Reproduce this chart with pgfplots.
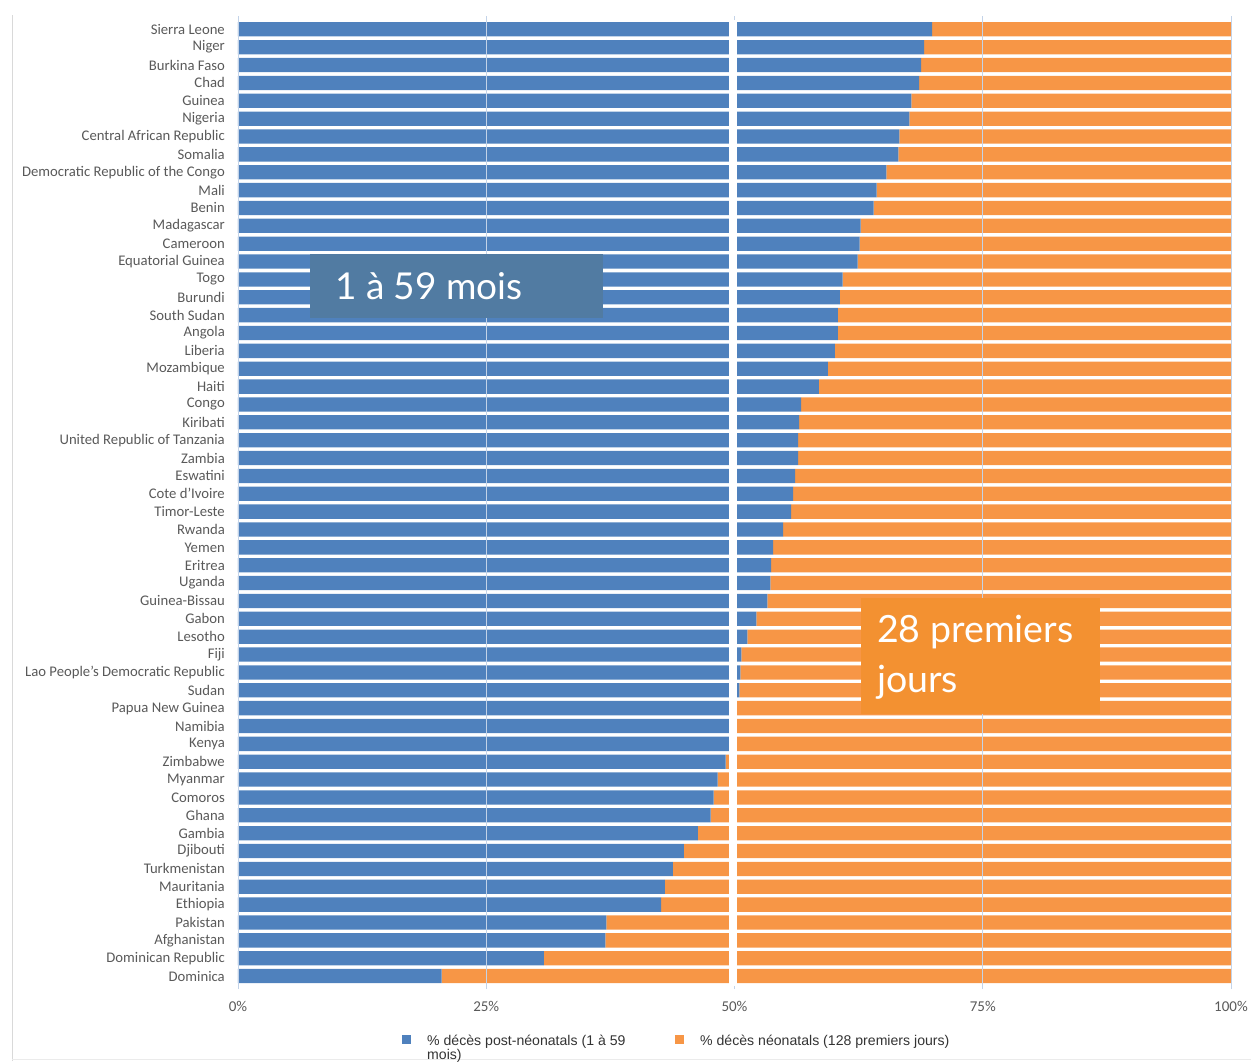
\documentclass[border=0pt]{standalone}
\usepackage{pgfplots}
\pgfplotsset{compat=1.18}
\usepackage{fontspec}
\setmainfont{Carlito}
\newfontfamily\arialf{Liberation Sans}
\newfontfamily\gillf{Lato}
\definecolor{barblue}{HTML}{4F81BD}
\definecolor{barorange}{HTML}{F79646}
\definecolor{boxblue}{HTML}{517BA2}
\definecolor{boxorange}{HTML}{F39131}
\definecolor{labgray}{HTML}{595959}
\definecolor{gridblue}{HTML}{C3D3E8}
\begin{document}
\begin{tikzpicture}[x=1pt,y=1pt]
\path[use as bounding box] (0,0) rectangle (1251,1061);
\draw[line width=0.8pt, color=black!15] (12,0) -- (12,1046);
\draw[line width=0.6pt, color=black!8] (12,2) -- (1251,2);
\begin{axis}[
  at={(238pt,76pt)}, anchor=south west,
  scale only axis, width=993pt, height=964.6pt,
  xbar stacked, bar width=14.3pt,
  xmin=0, xmax=100, ymin=-0.5, ymax=53.5, y dir=reverse,
  axis line style={draw=none},
  ytick={0,...,53},
  yticklabels={Sierra Leone,Niger,Burkina Faso,Chad,Guinea,Nigeria,Central African Republic,Somalia,Democratic Republic of the Congo,Mali,Benin,Madagascar,Cameroon,Equatorial Guinea,Togo,Burundi,South Sudan,Angola,Liberia,Mozambique,Haiti,Congo,Kiribati,United Republic of Tanzania,Zambia,Eswatini,Cote d'Ivoire,Timor-Leste,Rwanda,Yemen,Eritrea,Uganda,Guinea-Bissau,Gabon,Lesotho,Fiji,Lao People's Democratic Republic,Sudan,Papua New Guinea,Namibia,Kenya,Zimbabwe,Myanmar,Comoros,Ghana,Gambia,Djibouti,Turkmenistan,Mauritania,Ethiopia,Pakistan,Afghanistan,Dominican Republic,Dominica},
  yticklabel style={font=\fontsize{14.7}{16}\selectfont, text=labgray, inner sep=0pt, anchor=east, xshift=-9pt},
  ytick style={draw=none},
  xtick={0,25,50,75,100},
  xticklabels={0\%,25\%,50\%,75\%,100\%},
  xticklabel style={font=\fontsize{15}{17}\selectfont, text=labgray, inner sep=0pt, anchor=north, yshift=-12pt},
  xtick style={draw=gridblue, line width=0.8pt},
  tick align=outside, major tick length=4pt,
  clip=false,
]
\addplot[fill=barblue, draw=none] coordinates {
(69.9,0) (69.1,1) (68.8,2) (68.6,3) (67.8,4) (67.6,5) (66.6,6) (66.5,7) (65.3,8) (64.3,9)
(64.0,10) (62.7,11) (62.6,12) (62.4,13) (60.9,14) (60.6,15) (60.4,16) (60.4,17) (60.1,18) (59.4,19)
(58.5,20) (56.7,21) (56.5,22) (56.4,23) (56.4,24) (56.1,25) (55.9,26) (55.7,27) (54.9,28) (53.9,29)
(53.7,30) (53.6,31) (53.3,32) (52.2,33) (51.3,34) (50.7,35) (50.6,36) (50.5,37) (50.0,38) (50.0,39)
(50.0,40) (49.1,41) (48.3,42) (47.9,43) (47.6,44) (46.3,45) (44.9,46) (43.8,47) (43.0,48) (42.6,49)
(37.1,50) (37.0,51) (30.8,52) (20.5,53)
};
\addplot[fill=barorange, draw=none] coordinates {
(30.1,0) (30.9,1) (31.2,2) (31.4,3) (32.2,4) (32.4,5) (33.4,6) (33.5,7) (34.7,8) (35.7,9)
(36.0,10) (37.3,11) (37.4,12) (37.6,13) (39.1,14) (39.4,15) (39.6,16) (39.6,17) (39.9,18) (40.6,19)
(41.5,20) (43.3,21) (43.5,22) (43.6,23) (43.6,24) (43.9,25) (44.1,26) (44.3,27) (45.1,28) (46.1,29)
(46.3,30) (46.4,31) (46.7,32) (47.8,33) (48.7,34) (49.3,35) (49.4,36) (49.5,37) (50.0,38) (50.0,39)
(50.0,40) (50.9,41) (51.7,42) (52.1,43) (52.4,44) (53.7,45) (55.1,46) (56.2,47) (57.0,48) (57.4,49)
(62.9,50) (63.0,51) (69.2,52) (79.5,53)
};
\end{axis}
% gridlines over bars and white gap at 50%
\draw[gridblue, line width=0.8pt] (238,76) -- (238,1040.6);
\draw[gridblue, line width=0.8pt] (486.25,76) -- (486.25,1040.6);
\draw[gridblue, line width=0.8pt] (982.75,76) -- (982.75,1040.6);
\draw[gridblue, line width=0.8pt] (1231,76) -- (1231,1040.6);
\fill[white] (728.5,75) rectangle (736.5,1041);
% annotation boxes
\fill[boxblue] (310,743) rectangle (603,807);
\node[anchor=base west, inner sep=0pt, text=white, font=\gillf\fontsize{37}{44}\selectfont] at (335,761) {1 à 59 mois};
\fill[boxorange] (861,347) rectangle (1100,463);
\node[anchor=base west, inner sep=0pt, text=white, font=\gillf\fontsize{37.5}{44}\selectfont] at (877,418) {28 premiers};
\node[anchor=base west, inner sep=0pt, text=white, font=\gillf\fontsize{37.5}{44}\selectfont] at (877,368) {jours};
% legend
\fill[barblue] (402,17.5) rectangle (411,26.5);
\node[anchor=base west, inner sep=0pt, text=black!80, font=\arialf\fontsize{14.1}{15}\selectfont] at (427,16) {\% décès post-néonatals (1 à 59};
\node[anchor=base west, inner sep=0pt, text=black!80, font=\arialf\fontsize{14.1}{15}\selectfont] at (427,2) {mois)};
\fill[barorange] (675,17.5) rectangle (684,26.5);
\node[anchor=base west, inner sep=0pt, text=black!80, font=\arialf\fontsize{14.1}{15}\selectfont] at (700,16) {\% décès néonatals (128 premiers jours)};
\end{tikzpicture}
\end{document}
